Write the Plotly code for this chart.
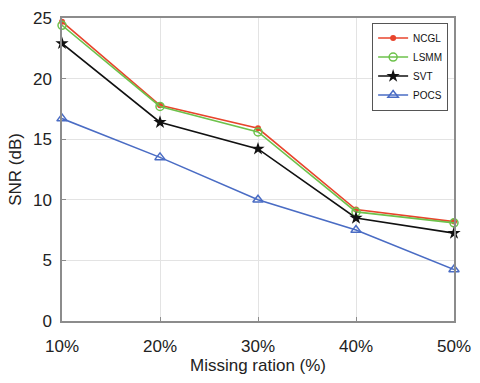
import plotly.graph_objects as go

missing = [10, 20, 30, 40, 50]
tick_labels = ["10%", "20%", "30%", "40%", "50%"]
ncgl = [24.7, 17.8, 15.9, 9.2, 8.2]
lsmm = [24.4, 17.7, 15.6, 9.0, 8.1]
svt = [22.9, 16.4, 14.2, 8.5, 7.25]
pocs = [16.7, 13.5, 10.0, 7.5, 4.25]

FONT = "Liberation Sans Narrow, Arial Narrow, Liberation Sans, Arial"

fig = go.Figure()
fig.add_trace(go.Scatter(x=missing, y=ncgl, name="NCGL", mode="lines+markers",
                         line=dict(color="#e8442c", width=1.6),
                         marker=dict(symbol="circle", size=6, color="#e8442c"),
                         cliponaxis=False))
fig.add_trace(go.Scatter(x=missing, y=lsmm, name="LSMM", mode="lines+markers",
                         line=dict(color="#6dc24b", width=1.6),
                         marker=dict(symbol="circle-open", size=8, color="#6dc24b", line=dict(width=1.5)),
                         cliponaxis=False))
fig.add_trace(go.Scatter(x=missing, y=svt, name="SVT", mode="lines+markers",
                         line=dict(color="#111111", width=1.6),
                         marker=dict(symbol="star", size=10, color="#111111"),
                         cliponaxis=False))
fig.add_trace(go.Scatter(x=missing, y=pocs, name="POCS", mode="lines+markers",
                         line=dict(color="#4a6cc4", width=1.6),
                         marker=dict(symbol="triangle-up-open", size=9, color="#4a6cc4", line=dict(width=1.5)),
                         cliponaxis=False))

axis_common = dict(showline=True, linecolor="#8c8c8c", linewidth=1.5, mirror=True,
                   showgrid=True, gridcolor="#e3e3e3", gridwidth=1,
                   ticks="inside", ticklen=4, tickcolor="#8c8c8c", zeroline=False,
                   tickfont=dict(family=FONT, size=17, color="#222222"))

fig.update_layout(
    width=480, height=383,
    margin=dict(l=62, r=24, t=9, b=62),
    paper_bgcolor="white", plot_bgcolor="white",
    font=dict(family=FONT, color="#222222"),
    xaxis=dict(axis_common, range=[10, 50], tickvals=missing, ticktext=tick_labels,
               ticklabelstandoff=9,
               title=dict(text="Missing ration (%)", font=dict(size=17), standoff=3)),
    yaxis=dict(axis_common, range=[0, 25], tickvals=[0, 5, 10, 15, 20, 25],
               ticklabelstandoff=5,
               title=dict(text="SNR (dB)", font=dict(size=17), standoff=7)),
    legend=dict(x=0.985, y=0.985, xanchor="right", yanchor="top",
                bgcolor="white", bordercolor="#555555", borderwidth=1,
                font=dict(size=10, family=FONT, color="#111111"),
                tracegroupgap=0, itemwidth=30),
    showlegend=True,
)

fig.write_html("out.html")
